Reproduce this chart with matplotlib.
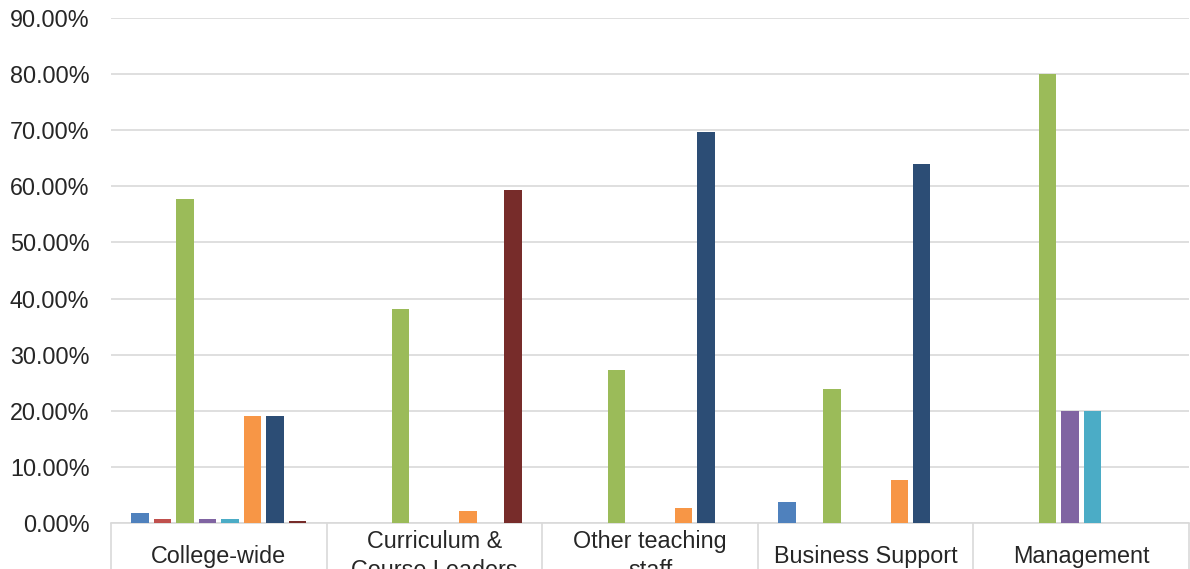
import matplotlib
matplotlib.use("Agg")
import matplotlib.pyplot as plt
import matplotlib.transforms as mtransforms
import numpy as np

categories = ["College-wide", "Curriculum &\nCourse Leaders", "Other teaching\nstaff",
              "Business Support", "Management"]

# eight series (values in fraction)
s1 = [0.018, 0.0, 0.0, 0.038, 0.0]        # blue
s2 = [0.007, 0.0, 0.0, 0.0, 0.0]          # red
s3 = [0.577, 0.381, 0.273, 0.238, 0.80]   # green
s4 = [0.007, 0.0, 0.0, 0.0, 0.20]         # purple
s5 = [0.007, 0.0, 0.0, 0.0, 0.20]         # cyan
s6 = [0.19, 0.021, 0.027, 0.077, 0.0]     # orange
s7 = [0.19, 0.0, 0.696, 0.639, 0.0]       # dark blue
s8 = [0.004, 0.594, 0.0, 0.0, 0.0]        # dark red
series = [s1, s2, s3, s4, s5, s6, s7, s8]
colors = ["#4F81BD", "#C0504D", "#9BBB59", "#8064A2", "#4BACC6", "#F79646", "#2C4D75", "#772C2A"]

yticks = [0.0, 0.1, 0.2, 0.3, 0.4, 0.5, 0.6, 0.7, 0.8, 0.9]

plt.rcParams['font.family'] = ['Liberation Sans', 'DejaVu Sans']
W, H = 1190, 569
fig = plt.figure(figsize=(W / 100, H / 100), dpi=100)
ax = fig.add_axes([111 / W, (H - 523) / H, (1189 - 111) / W, (523 - 18) / H])

x = np.arange(len(categories))
pitch = 0.1042
bw = 0.081
for i, (vals, c) in enumerate(zip(series, colors)):
    ax.bar(x + (i - 3.5) * pitch, vals, width=bw, color=c, zorder=3, linewidth=0)

ax.set_xlim(-0.5, len(categories) - 0.5)
ax.set_ylim(0, 0.9)
ax.set_yticks(yticks)
ax.set_yticklabels([f"{v * 100:.2f}%" for v in yticks], fontsize=16.8, color="#262626")
ax.tick_params(axis='y', length=0, pad=15.5)
ax.yaxis.grid(True, color="#D9D9D9", linewidth=1.2, zorder=0)
ax.set_axisbelow(True)

for sp in ["left", "right", "top"]:
    ax.spines[sp].set_visible(False)
ax.spines["bottom"].set_color("#D9D9D9")
ax.spines["bottom"].set_linewidth(1.2)

# category separators (minor ticks extending below the axis)
ax.set_xticks([])
ax.set_xticks(np.arange(len(categories) + 1) - 0.5, minor=True)
ax.tick_params(axis='x', which='minor', length=34, width=1.2, color="#D9D9D9", direction='out')
ax.tick_params(axis='x', which='major', length=0)

trans = mtransforms.blended_transform_factory(ax.transData, ax.transAxes)
off = mtransforms.ScaledTranslation(0, -33 / 100, fig.dpi_scale_trans)
for xi, lab in zip(x, categories):
    ax.text(xi, 0, lab, transform=trans + off, ha='center', va='center',
            fontsize=16.8, color="#262626", linespacing=1.35, multialignment='center',
            clip_on=False)

fig.savefig("out.png", dpi=100)
